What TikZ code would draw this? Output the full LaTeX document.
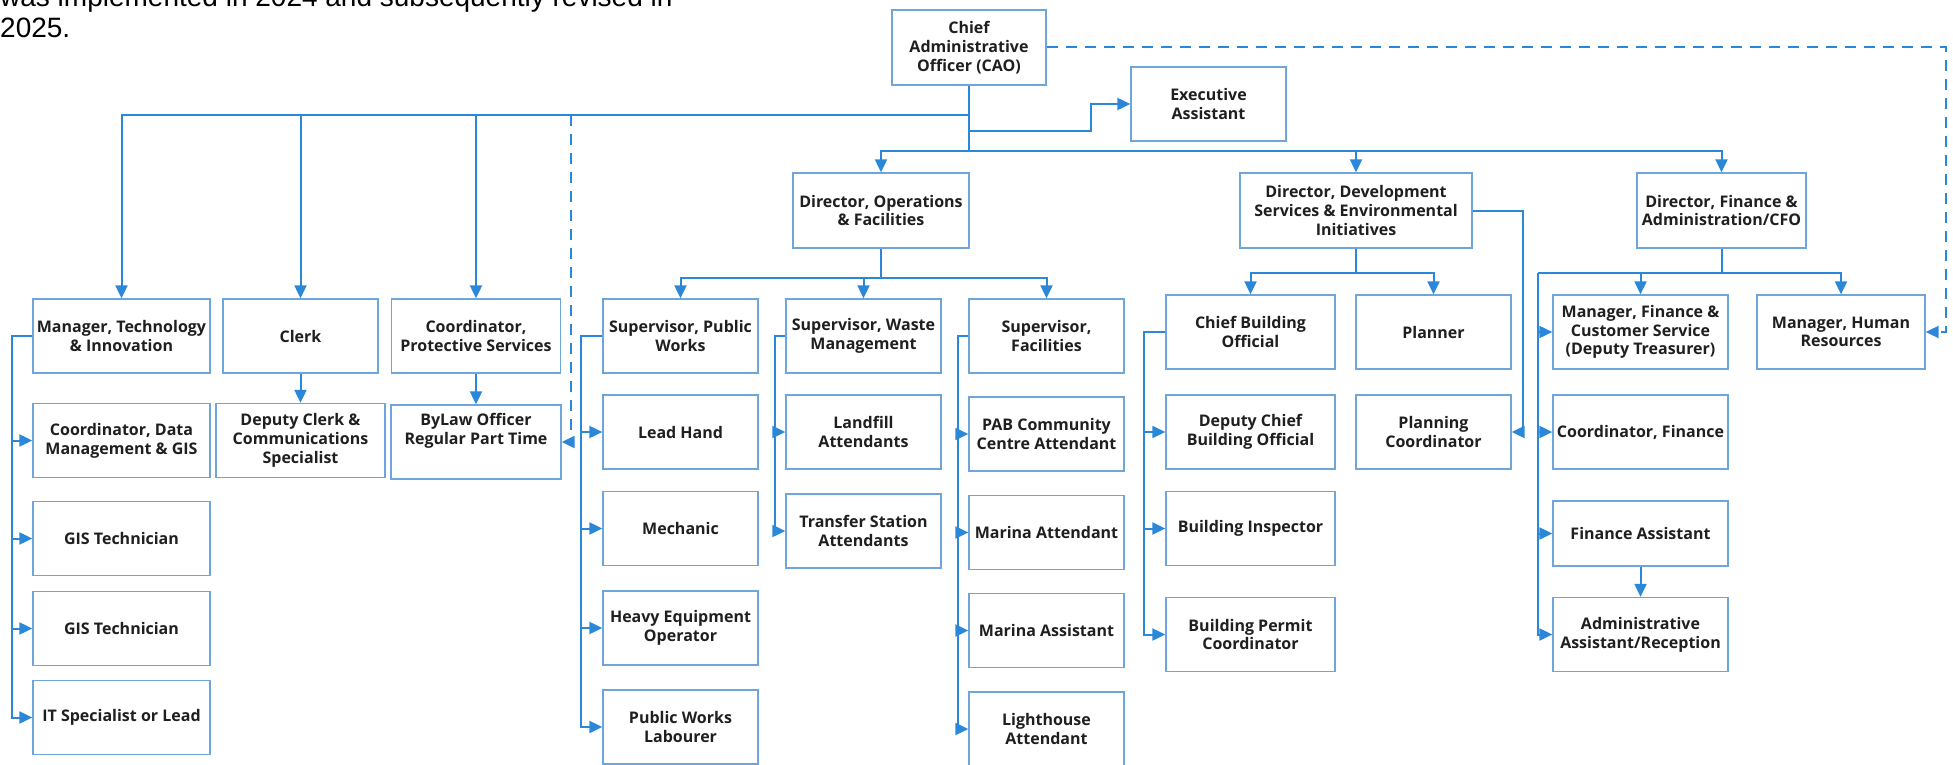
\documentclass[tikz,border=0pt]{standalone}
\usepackage{fontspec}
\newfontfamily\boxfont{Open Sans}
\newfontfamily\notefont{Liberation Sans}
\usepackage{xcolor}
\usepackage{tikz}
\usetikzlibrary{positioning,arrows.meta}
\definecolor{linkblue}{RGB}{43,136,216}
\definecolor{boxblue}{RGB}{110,165,220}

\begin{document}
\begin{tikzpicture}[x=1pt, y=-1pt, node distance=100pt, auto,
        box/.style={draw=boxblue, line width=1.3pt, fill=white, align=center,
            font=\boxfont\bfseries\fontsize{16}{18.7}\selectfont, text=black!88,
            inner sep=2pt, minimum height=74pt},
        note/.style={anchor=base west, inner sep=0pt,
            font=\notefont\fontsize{28}{31}\selectfont},
        >={Triangle[length=13pt 0 0, width=12pt 0 0]},
        link/.style={draw=linkblue, line width=2pt},
        dashlink/.style={link, dash pattern=on 11pt off 8pt}]
        \useasboundingbox (0,0) rectangle (1953,765);

        \node (note1) [note] at (0,6.5) {was implemented in 2024 and subsequently revised in};
        \node (note2) [note] at (0,37.7) {2025.};

        \node (cao) [box, minimum width=154pt, minimum height=75pt] at (969,47.5) {Chief\\Administrative\\Officer (CAO)};
        \node (exa) [box, right of=cao, node distance=239.5pt, yshift=-56.5pt, minimum width=155pt] {Executive\\Assistant};

        \node (dop) [box, minimum width=176pt, minimum height=75pt] at (881,210.5) {Director, Operations\\\& Facilities};
        \node (ddev) [box, right of=dop, node distance=475pt, minimum width=232pt, minimum height=75pt] {Director, Development\\Services \& Environmental\\Initiatives};
        \node (dfin) [box, right of=ddev, node distance=365.5pt, minimum width=169pt, minimum height=75pt] {Director, Finance \&\\Administration/CFO};

        \node (mti) [box, minimum width=177pt] at (121.5,336) {Manager, Technology\\\& Innovation};
        \node (cdm) [box, below of=mti, node distance=104.5pt, minimum width=177pt] {Coordinator, Data\\Management \& GIS};
        \node (gis1) [box, below of=cdm, node distance=98pt, minimum width=177pt] {GIS Technician};
        \node (gis2) [box, below of=gis1, node distance=90pt, minimum width=177pt] {GIS Technician};
        \node (itl) [box, below of=gis2, node distance=89pt, minimum width=177pt] {IT Specialist or Lead};

        \node (clk) [box, right of=mti, node distance=179pt, minimum width=155pt] {Clerk};
        \node (dclk) [box, below of=clk, node distance=104.5pt, minimum width=169pt] {Deputy Clerk \&\\Communications\\Specialist};
        \node (cpr) [box, right of=clk, node distance=175.5pt, minimum width=169pt] {Coordinator,\\Protective Services};
        \node (byl) [box, below of=cpr, node distance=106pt, minimum width=170pt] {ByLaw Officer\\Regular Part Time\\[8pt]};

        \node (spw) [box, minimum width=155pt] at (680.5,336) {Supervisor, Public\\Works};
        \node (swm) [box, right of=spw, node distance=183pt, minimum width=155pt] {Supervisor, Waste\\Management};
        \node (sfc) [box, right of=swm, node distance=183pt, minimum width=155pt] {Supervisor,\\Facilities};
        \node (lhd) [box, below of=spw, node distance=96pt, minimum width=155pt] {Lead Hand};
        \node (mch) [box, below of=lhd, node distance=96.5pt, minimum width=155pt] {Mechanic};
        \node (hvy) [box, below of=mch, node distance=99.5pt, minimum width=155pt] {Heavy Equipment\\Operator};
        \node (pwl) [box, below of=hvy, node distance=99pt, minimum width=155pt] {Public Works\\Labourer};
        \node (lfa) [box, below of=swm, node distance=96pt, minimum width=155pt] {Landfill\\Attendants};
        \node (tsa) [box, below of=lfa, node distance=99pt, minimum width=155pt] {Transfer Station\\Attendants};
        \node (pab) [box, below of=sfc, node distance=98pt, minimum width=155pt] {PAB Community\\Centre Attendant};
        \node (mat) [box, below of=pab, node distance=98.5pt, minimum width=155pt] {Marina Attendant};
        \node (mas) [box, below of=mat, node distance=98pt, minimum width=155pt] {Marina Assistant};
        \node (lgt) [box, below of=mas, node distance=98.5pt, minimum width=155pt] {Lighthouse\\Attendant};

        \node (cbo) [box, minimum width=169pt] at (1250.5,332) {Chief Building\\Official};
        \node (pln) [box, right of=cbo, node distance=183pt, minimum width=155pt] {Planner};
        \node (dcbo) [box, below of=cbo, node distance=100pt, minimum width=169pt] {Deputy Chief\\Building Official};
        \node (bin) [box, below of=dcbo, node distance=96.5pt, minimum width=169pt] {Building Inspector};
        \node (bpc) [box, below of=bin, node distance=106pt, minimum width=169pt] {Building Permit\\Coordinator};
        \node (plc) [box, below of=pln, node distance=100pt, minimum width=155pt] {Planning\\Coordinator};

        \node (mfin) [box, minimum width=175pt] at (1640.5,332) {Manager, Finance \&\\Customer Service\\(Deputy Treasurer)};
        \node (mhr) [box, right of=mfin, node distance=200.5pt, minimum width=168pt] {Manager, Human\\Resources};
        \node (cfin) [box, below of=mfin, node distance=100pt, minimum width=175pt] {Coordinator, Finance};
        \node (fas) [box, below of=cfin, node distance=101.5pt, minimum width=175pt, minimum height=65pt] {Finance Assistant};
        \node (adm) [box, below of=fas, node distance=101pt, minimum width=175pt] {Administrative\\Assistant/Reception};

        % CAO lines
        \coordinate (upbus) at (969,115);
        \coordinate (lowbus) at (969,151);
        \coordinate (dsh) at (571,115);
        \coordinate (exbend) at (1091,131);
        \coordinate (hrline) at (1946,48);
        \draw[link] (cao) -- (lowbus);
        \draw[link,->] (upbus) -| (mti);
        \draw[link,->] (upbus) -| (clk);
        \draw[link,->] (upbus) -| (cpr);
        \draw[dashlink,->] (dsh) |- (byl);
        \draw[link,->] (cao |- exbend) -- (exbend) |- (exa);
        \draw[link,->] (lowbus) -| (dop);
        \draw[link,->] (lowbus) -| (ddev);
        \draw[link,->] (lowbus) -| (dfin);
        \draw[dashlink,->] (cao.east) -- (cao.east -| hrline) |- (mhr);

        % left group
        \draw[link,->] (mti.west) -- ++(-20.5,0) |- (cdm);
        \draw[link,->] (mti.west) -- ++(-20.5,0) |- (gis1);
        \draw[link,->] (mti.west) -- ++(-20.5,0) |- (gis2);
        \draw[link,->] (mti.west) -- ++(-20.5,0) |- (itl);
        \draw[link,->] (clk) -- (dclk);
        \draw[link,->] (cpr) -- (byl);

        % operations
        \coordinate (opsbus) at (881,278);
        \draw[link] (dop) -- (opsbus);
        \draw[link,->] (opsbus) -| (spw);
        \draw[link,->] (opsbus) -| (swm);
        \draw[link,->] (opsbus) -| (sfc);
        \draw[link,->] (spw.west) -- ++(-21,0) |- (lhd);
        \draw[link,->] (spw.west) -- ++(-21,0) |- (mch);
        \draw[link,->] (spw.west) -- ++(-21,0) |- (hvy);
        \draw[link,->] (spw.west) -- ++(-21,0) |- (pwl);
        \draw[link,->] (swm.west) -- ++(-10,0) |- (lfa);
        \draw[link,->] (swm.west) -- ++(-10,0) |- (tsa);
        \draw[link,->] (sfc.west) -- ++(-10,0) |- (pab);
        \draw[link,->] (sfc.west) -- ++(-10,0) |- (mat);
        \draw[link,->] (sfc.west) -- ++(-10,0) |- (mas);
        \draw[link,->] (sfc.west) -- ++(-10,0) |- (lgt);

        % development
        \coordinate (devbus) at (1356,273);
        \draw[link] (ddev) -- (devbus);
        \draw[link,->] (devbus) -| (cbo);
        \draw[link,->] (devbus) -| (pln);
        \draw[link,->] (ddev.east) -- ++(50,0) |- (plc);
        \draw[link,->] (cbo.west) -- ++(-21,0) |- (dcbo);
        \draw[link,->] (cbo.west) -- ++(-21,0) |- (bin);
        \draw[link,->] (cbo.west) -- ++(-21,0) |- (bpc);

        % finance
        \coordinate (finbus) at (1721.5,273);
        \coordinate (finleft) at (1538,273);
        \draw[link] (dfin) -- (finbus);
        \draw[link,->] (finbus) -| (mfin);
        \draw[link,->] (finbus) -| (mhr);
        \draw[link] (finbus) -- (finleft);
        \draw[link,->] (finleft) |- (mfin);
        \draw[link,->] (finleft) |- (cfin);
        \draw[link,->] (finleft) |- (fas);
        \draw[link,->] (finleft) |- (adm);
        \draw[link,->] (fas) -- (adm);
\end{tikzpicture}
\end{document}
